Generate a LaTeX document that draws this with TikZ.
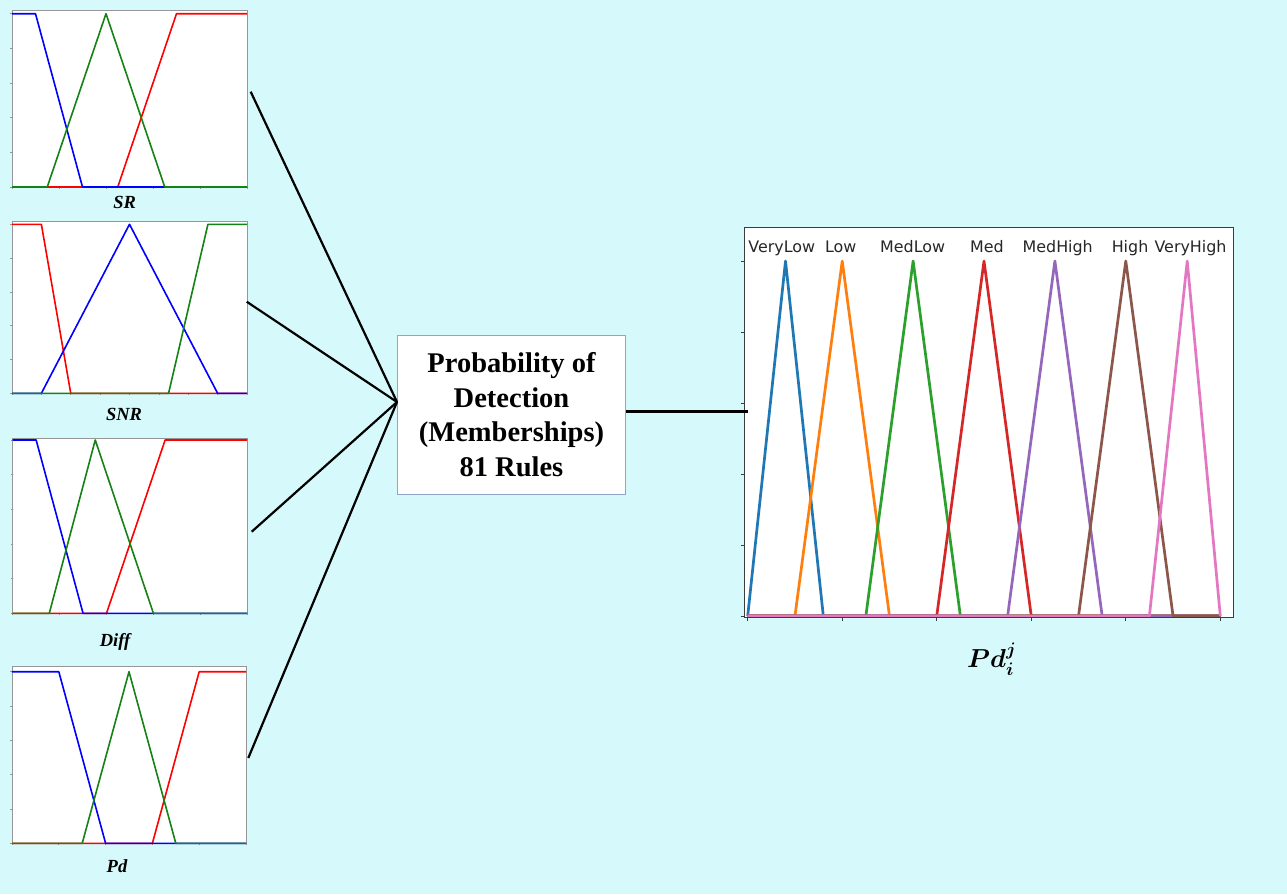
\RequirePackage{fix-cm}
\documentclass[tikz,border=0pt]{standalone}
\usepackage{amsmath,amssymb}
\usepackage{fontspec}
\usepackage{tikz}
\usetikzlibrary{calc,positioning}
\newfontfamily\timesfont{Liberation Serif}
\newfontfamily\mplfont{DejaVu Sans}
\definecolor{bgcyan}{RGB}{214,250,252}
\definecolor{boxedge}{RGB}{140,168,200}
\definecolor{framegray}{RGB}{150,150,150}
\definecolor{axisgray}{RGB}{60,60,60}
\definecolor{mfgreen}{RGB}{20,130,20}
% matplotlib tab10
\definecolor{tabblue}{HTML}{1F77B4}
\definecolor{taborange}{HTML}{FF7F0E}
\definecolor{tabgreen}{HTML}{2CA02C}
\definecolor{tabred}{HTML}{D62728}
\definecolor{tabpurple}{HTML}{9467BD}
\definecolor{tabbrown}{HTML}{8C564B}
\definecolor{tabpink}{HTML}{E377C2}

\tikzset{
  panelframe/.style={draw=framegray, fill=white, line width=0.9pt},
  paneltick/.style={framegray, line width=0.7pt},
  mfline/.style={line width=1.6pt, line join=round},
  paneltitle/.style={anchor=base, inner sep=0pt,
    font=\timesfont\bfseries\itshape\fontsize{18.5}{20}\selectfont},
  rulesbox/.style={draw=boxedge, fill=white, line width=1pt,
    minimum width=228pt, minimum height=159pt, inner sep=0pt, align=center,
    font=\timesfont\bfseries\fontsize{28.5}{34.5}\selectfont},
  link/.style={line width=2.2pt, black},
  outcurve/.style={line width=2.7pt, line join=round},
  mflabel/.style={anchor=base, inner sep=0pt, text=black!85,
    font=\mplfont\fontsize{15.9}{18}\selectfont}
}

\begin{document}
\begin{tikzpicture}[x=1pt,y=-1pt]
  % canvas (pixel units, y down)
  \fill[bgcyan] (0,0) rectangle (1287,894);
  \useasboundingbox (0,0) rectangle (1287,894);

  % ---- input membership panels ----
  % SR
  \begin{scope}[shift={(12,187)}, x=47pt, y=173.3pt]
    \draw[panelframe] (0,0) rectangle (5,1.021);
    \foreach \t in {0,...,5} \draw[paneltick] (\t,0) -- ++(0,-2pt);
    \foreach \t in {0,0.2,...,1} \draw[paneltick] (0,\t) -- ++(-2pt,0);
    \draw[mfline,red] (0,0) -- (2.25,0) -- (3.5,1) -- (5,1);
    \draw[mfline,blue] (0,1) -- (0.5,1) -- (1.5,0) -- (5,0);
    \draw[mfline,mfgreen] (0,0) -- (0.75,0) -- (2,1) -- (3.25,0) -- (5,0);
  \end{scope}
  % SNR
  \begin{scope}[shift={(12,393.3)}, x=29.375pt, y=169pt]
    \draw[panelframe] (0,0) rectangle (8,1.015);
    \foreach \t in {0,...,8} \draw[paneltick] (\t,0) -- ++(0,-2pt);
    \foreach \t in {0,0.2,...,1} \draw[paneltick] (0,\t) -- ++(-2pt,0);
    \draw[mfline,red] (0,1) -- (1,1) -- (2,0) -- (8,0);
    \draw[mfline,blue] (0,0) -- (1,0) -- (4,1) -- (7,0) -- (8,0);
    \draw[mfline,mfgreen] (0,0) -- (5.33,0) -- (6.67,1) -- (8,1);
  \end{scope}
  % Diff
  \begin{scope}[shift={(12.7,613.3)}, x=46.9pt, y=173.3pt]
    \draw[panelframe] (0,0) rectangle (5,1.01);
    \foreach \t in {0,...,5} \draw[paneltick] (\t,0) -- ++(0,-2pt);
    \foreach \t in {0,0.2,...,1} \draw[paneltick] (0,\t) -- ++(-2pt,0);
    \draw[mfline,red] (0,0) -- (2,0) -- (3.25,1) -- (5,1);
    \draw[mfline,blue] (0,1) -- (0.5,1) -- (1.5,0) -- (5,0);
    \draw[mfline,mfgreen] (0,0) -- (0.78,0) -- (1.76,1) -- (3,0) -- (5,0);
  \end{scope}
  % Pd
  \begin{scope}[shift={(12,843.3)}, x=46.8pt, y=171.6pt]
    \draw[panelframe] (0,0) rectangle (5,1.03);
    \foreach \t in {0,...,5} \draw[paneltick] (\t,0) -- ++(0,-2pt);
    \foreach \t in {0,0.2,...,1} \draw[paneltick] (0,\t) -- ++(-2pt,0);
    \draw[mfline,red] (0,0) -- (3,0) -- (4,1) -- (5,1);
    \draw[mfline,blue] (0,1) -- (1,1) -- (2,0) -- (5,0);
    \draw[mfline,mfgreen] (0,0) -- (1.5,0) -- (2.5,1) -- (3.5,0) -- (5,0);
  \end{scope}

  % panel titles
  \node[paneltitle] (srtitle)   at (124.7,208.3) {SR};
  \node[paneltitle] (snrtitle)  at (124,420)     {SNR};
  \node[paneltitle] (difftitle) at (115,646.7)   {Diff};
  \node[paneltitle] (pdtitle)   at (117,872.7)   {Pd};

  % ---- rule base ----
  \node[rulesbox] (rules) at (511.5,414.5)
    {Probability of\\Detection\\(Memberships)\\81 Rules};

  \coordinate (hub)     at ($(rules.west)+(0,-12.5)$);
  \coordinate (srout)   at (250.7,91.7);
  \coordinate (snrout)  at (246.7,301.7);
  \coordinate (diffout) at (251.7,531.7);
  \coordinate (pdout)   at (248.3,758);
  \foreach \src in {srout,snrout,diffout,pdout}
    \draw[link] (\src) -- (hub);

  % ---- output memberships ----
  \begin{scope}[shift={(747.7,616)}, x=472.6pt, y=355pt]
    \fill[white] (-0.0072,-0.0037) rectangle (1.0275,1.094);
    \foreach \t in {0,0.2,...,1} \draw[axisgray,line width=0.9pt] (\t,-0.0037) -- ++(0,-3.5pt);
    \foreach \t in {0,0.2,...,1} \draw[axisgray,line width=0.9pt] (-0.0072,\t) -- ++(-3.5pt,0);
    \foreach \a/\b/\c/\col in {0/0.08/0.16/tabblue, 0.1/0.2/0.3/taborange,
        0.25/0.35/0.45/tabgreen, 0.4/0.5/0.6/tabred, 0.55/0.65/0.75/tabpurple,
        0.7/0.8/0.9/tabbrown, 0.85/0.93/1/tabpink}
      \draw[outcurve,\col] (0,0) -- (\a,0) -- (\b,1) -- (\c,0) -- (1,0);
    \draw[axisgray,line width=1pt] (-0.0072,-0.0037) rectangle (1.0275,1.094);
    \foreach \lx/\name in {0.072/VeryLow, 0.197/Low, 0.349/MedLow, 0.506/Med,
        0.656/MedHigh, 0.809/High, 0.937/VeryHigh}
      \node[mflabel] (lbl\name) at (\lx,1.024) {\name};
  \end{scope}

  \coordinate (rulesout) at ($(rules.east)+(0,-3)$);
  \coordinate (pdin) at (747.5,411.5);
  \draw[link] (rulesout) -- (pdin);

  \node[font=\fontsize{26}{30}\selectfont] (pdij) at (991.7,659)
    {$\boldsymbol{Pd_i^j}$};
\end{tikzpicture}
\end{document}
